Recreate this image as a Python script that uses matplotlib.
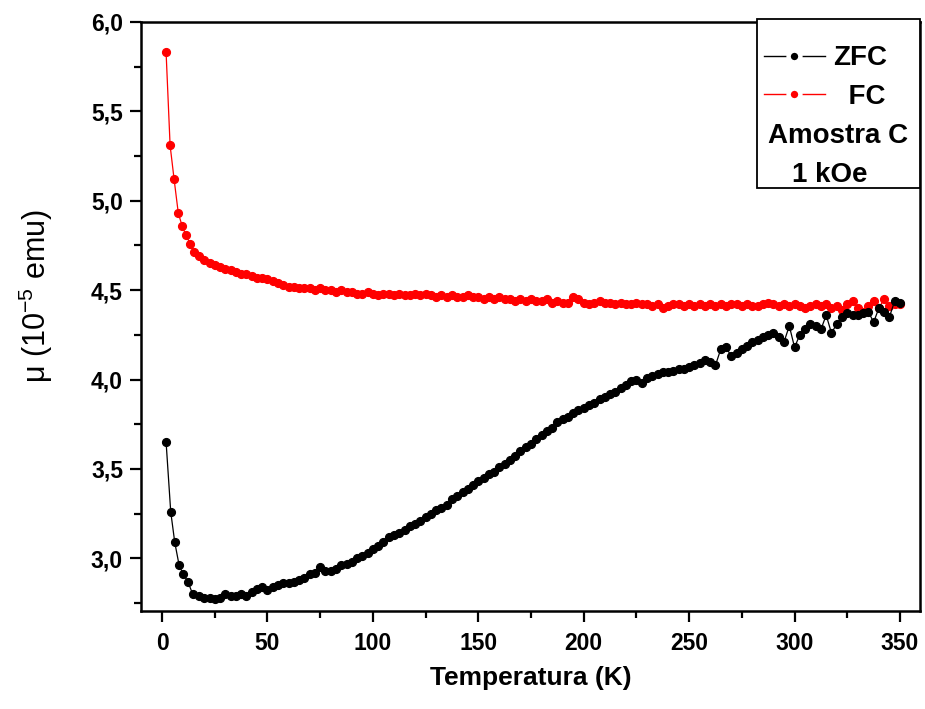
import numpy as np
import matplotlib
matplotlib.use("Agg")
import matplotlib.pyplot as plt
from matplotlib.ticker import MultipleLocator, FuncFormatter
from matplotlib.lines import Line2D
from matplotlib.patches import Rectangle

plt.rcParams['font.family'] = ['Liberation Sans', 'DejaVu Sans']
plt.rcParams['mathtext.fontset'] = 'custom'
plt.rcParams['mathtext.rm'] = 'Liberation Sans'
plt.rcParams['mathtext.it'] = 'Liberation Sans:italic'
plt.rcParams['mathtext.bf'] = 'Liberation Sans:bold'

# ---------------- data ----------------
T_low_zfc = [1.9, 4.1, 6.0, 8.1, 10.1, 12.2, 14.5]
M_low_zfc = [3.65, 3.26, 3.09, 2.96, 2.91, 2.87, 2.80]

T_low_fc = [1.9, 3.8, 5.7, 7.7, 9.6, 11.4, 13.3, 15.3]
M_low_fc = [5.83, 5.31, 5.12, 4.93, 4.856, 4.806, 4.76, 4.713]

# measurement grid above 17.5 K (2.5 K steps)
T_grid = np.arange(17.5, 350.01, 2.5)

M_zfc_grid = [
    2.79, 2.78, 2.78, 2.77, 2.78, 2.80, 2.79, 2.79,
    2.80, 2.79, 2.81, 2.83, 2.84, 2.82, 2.84, 2.85,
    2.86, 2.86, 2.87, 2.88, 2.89, 2.91, 2.92, 2.95,
    2.93, 2.93, 2.94, 2.96, 2.97, 2.98, 3.00, 3.01,
    3.03, 3.05, 3.07, 3.09, 3.12, 3.13, 3.14, 3.16,
    3.18, 3.19, 3.21, 3.23, 3.25, 3.27, 3.28, 3.30,
    3.33, 3.35, 3.37, 3.39, 3.41, 3.43, 3.45, 3.47,
    3.48, 3.51, 3.53, 3.55, 3.57, 3.60, 3.62, 3.64,
    3.67, 3.69, 3.71, 3.73, 3.76, 3.78, 3.79, 3.81,
    3.83, 3.84, 3.86, 3.87, 3.89, 3.90, 3.92, 3.93,
    3.95, 3.97, 3.99, 4.00, 3.98, 4.01, 4.02, 4.03,
    4.04, 4.04, 4.05, 4.06, 4.06, 4.07, 4.08, 4.09,
    4.11, 4.10, 4.08, 4.17, 4.18, 4.13, 4.15, 4.17,
    4.19, 4.21, 4.22, 4.24, 4.25, 4.26, 4.24, 4.21,
    4.30, 4.18, 4.25, 4.28, 4.31, 4.30, 4.28, 4.36,
    4.26, 4.31, 4.35, 4.37, 4.36, 4.36, 4.37, 4.38,
    4.32, 4.40, 4.38, 4.35, 4.44, 4.43,
]

M_fc_grid = [
    4.69, 4.67, 4.65, 4.64, 4.63, 4.62, 4.61, 4.60,
    4.59, 4.59, 4.58, 4.57, 4.57, 4.56, 4.55, 4.54,
    4.53, 4.52, 4.52, 4.51, 4.51, 4.51, 4.50, 4.51,
    4.50, 4.50, 4.49, 4.50, 4.49, 4.49, 4.48, 4.48,
    4.49, 4.48, 4.47, 4.48, 4.48, 4.47, 4.48, 4.47,
    4.47, 4.48, 4.47, 4.48, 4.47, 4.46, 4.47, 4.46,
    4.47, 4.46, 4.46, 4.47, 4.46, 4.46, 4.45, 4.46,
    4.45, 4.46, 4.45, 4.45, 4.44, 4.45, 4.44, 4.45,
    4.44, 4.44, 4.45, 4.43, 4.44, 4.43, 4.43, 4.46,
    4.45, 4.43, 4.42, 4.43, 4.44, 4.43, 4.43, 4.42,
    4.43, 4.42, 4.42, 4.43, 4.42, 4.42, 4.41, 4.42,
    4.40, 4.41, 4.42, 4.42, 4.41, 4.42, 4.41, 4.42,
    4.41, 4.42, 4.41, 4.42, 4.41, 4.42, 4.42, 4.41,
    4.42, 4.41, 4.41, 4.42, 4.43, 4.42, 4.41, 4.42,
    4.41, 4.42, 4.41, 4.40, 4.41, 4.42, 4.41, 4.42,
    4.40, 4.41, 4.39, 4.42, 4.44, 4.40, 4.38, 4.41,
    4.44, 4.40, 4.45, 4.41, 4.42, 4.42,
]

T_zfc = np.concatenate([T_low_zfc, T_grid])
M_zfc = np.concatenate([M_low_zfc, M_zfc_grid])
T_fc = np.concatenate([T_low_fc, T_grid])
M_fc = np.concatenate([M_low_fc, M_fc_grid])

series_labels = ["ZFC", "  FC"]
annot_lines = ["Amostra C", "1 kOe"]
x_label = "Temperatura (K)"
y_label = "\u03bc (10$^{\\mathregular{-5}}$ emu)"

# ---------------- figure ----------------
fig = plt.figure(figsize=(9.25, 7.09), dpi=100)
ax = fig.add_axes([141/925, 1 - 611/709, (920-141)/925, (611-22)/709])

ax.plot(T_zfc, M_zfc, '-', color='black', lw=0.9, marker='o', ms=5.6,
        mec='black', mfc='black', zorder=3)
ax.plot(T_fc, M_fc, '-', color='#ff0000', lw=0.9, marker='o', ms=5.6,
        mec='#ff0000', mfc='#ff0000', zorder=2)

ax.set_xlim(-10, 359.5)
ax.set_ylim(2.705, 6.0)

ax.xaxis.set_major_locator(MultipleLocator(50))
ax.xaxis.set_minor_locator(MultipleLocator(25))
ax.yaxis.set_major_locator(MultipleLocator(0.5))
ax.yaxis.set_minor_locator(MultipleLocator(0.25))
ax.yaxis.set_major_formatter(FuncFormatter(lambda v, p: f"{v:.1f}".replace('.', ',')))

ax.tick_params(which='major', direction='out', length=8, width=1.6,
               labelsize=16.5, pad=5)
ax.tick_params(which='minor', direction='out', length=5, width=1.6)
ax.tick_params(axis='x', pad=7)
for lab in ax.get_xticklabels() + ax.get_yticklabels():
    lab.set_fontweight('bold')
for s in ax.spines.values():
    s.set_linewidth(1.8)

ax.set_xlabel(x_label, fontsize=19, fontweight='bold', labelpad=8)
ax.set_ylabel(y_label, fontsize=22)
ax.yaxis.set_label_coords(-0.111, 0.535)

# legend box
box = Rectangle((0.791, 0.718), 0.209, 0.287, transform=ax.transAxes,
                fill=True, facecolor='white', edgecolor='black', lw=1.3,
                zorder=5, clip_on=False)
ax.add_patch(box)

h_zfc = Line2D([], [], color='black', lw=1.0, marker='o', ms=8.5,
               mfc='black', mec='white', mew=3.2)
h_fc = Line2D([], [], color='#ff0000', lw=1.0, marker='o', ms=8.5,
              mfc='#ff0000', mec='white', mew=3.2)
leg = ax.legend([h_zfc, h_fc], series_labels, loc='upper left',
                bbox_to_anchor=(0.792, 0.970), frameon=False,
                prop={'weight': 'bold', 'size': 20}, handlelength=2.2,
                handletextpad=0.3, labelspacing=0.45, borderaxespad=0,
                borderpad=0.2)
leg.set_zorder(6)

ax.text(0.895, 0.807, annot_lines[0], transform=ax.transAxes, ha='center',
        va='center', fontsize=20, fontweight='bold', zorder=7)
ax.text(0.884, 0.740, annot_lines[1], transform=ax.transAxes, ha='center',
        va='center', fontsize=20, fontweight='bold', zorder=7)

fig.savefig("out.png", dpi=100)
